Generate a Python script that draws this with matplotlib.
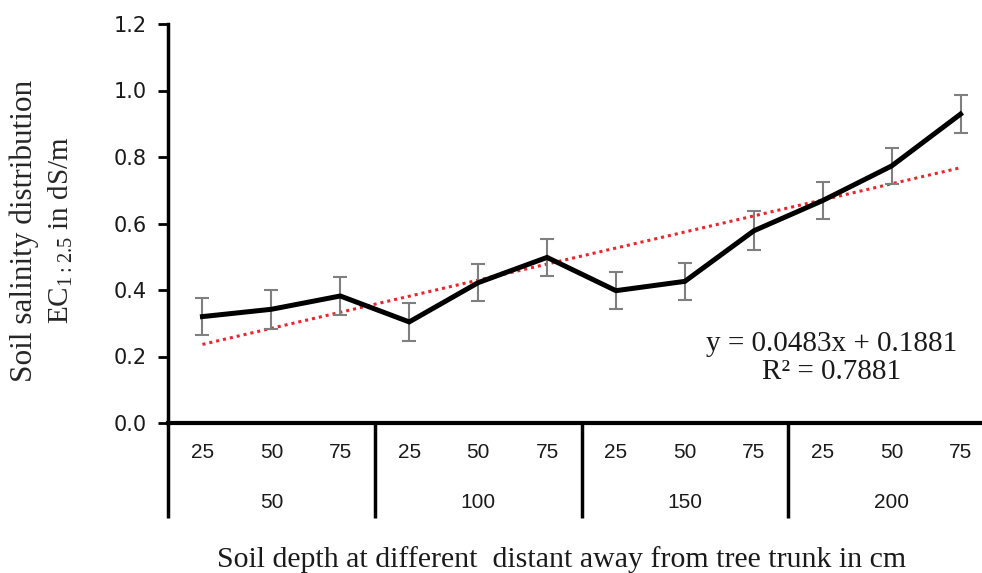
import numpy as np
import matplotlib
matplotlib.use("Agg")
import matplotlib.pyplot as plt
import matplotlib.transforms as mtransforms

# Data
depth_labels = ["25", "50", "75"] * 4
distance_labels = ["50", "100", "150", "200"]
ec_values = [0.320, 0.342, 0.382, 0.304, 0.422, 0.498, 0.398, 0.426, 0.578, 0.669, 0.773, 0.929]
ec_errors = [0.056, 0.059, 0.056, 0.058, 0.056, 0.056, 0.056, 0.056, 0.059, 0.056, 0.055, 0.056]
trend_slope = 0.0483
trend_intercept = 0.1881
trend_r2 = 0.7881

W, H = 982, 573
fig = plt.figure(figsize=(W / 100, H / 100), dpi=100)
left, right, bottom, top = 168, 995, 423, 24
ax = fig.add_axes([left / W, 1 - bottom / H, (right - left) / W, (bottom - top) / H])

x = np.arange(1, len(ec_values) + 1)

# Trendline
xt = np.array([x[0], x[-1]])
ax.plot(xt, trend_slope * xt + trend_intercept, linestyle=(0, (1, 1.3)), color="#e8262b",
        lw=2.2, zorder=2)

# Error bars and main line
ax.errorbar(x, ec_values, yerr=ec_errors, fmt="none", ecolor="#7f7f7f", elinewidth=1.5,
            capsize=5, capthick=1.5, zorder=3)
ax.plot(x, ec_values, color="black", lw=3.6, zorder=4, solid_joinstyle="miter")

ax.set_xlim(0.5, 12.5)
ax.set_ylim(0, 1.2)
ax.set_yticks(np.arange(0, 1.21, 0.2))
ax.set_yticklabels([f"{v:.1f}" for v in np.arange(0, 1.21, 0.2)],
                   fontfamily="DejaVu Sans", fontsize=15, color="#1a1a1a")
ax.tick_params(axis="y", direction="out", length=7, width=2, pad=8.5)
ax.set_xticks([])

for s in ["top", "right"]:
    ax.spines[s].set_visible(False)
ax.spines["left"].set_linewidth(2.5)
ax.spines["bottom"].set_linewidth(3)

trans = mtransforms.blended_transform_factory(ax.transData, ax.transAxes)
sep_bottom = -(518 - 423) / (423 - 24)
for b in [0.5, 3.5, 6.5, 9.5, 12.5]:
    ax.plot([b, b], [0, sep_bottom], color="black", lw=2.5, transform=trans, clip_on=False,
            solid_capstyle="butt")

sub_y = -(452 - 423) / (423 - 24)
grp_y = -(503 - 423) / (423 - 24)
for xi, lab in zip(x, depth_labels):
    ax.text(xi, sub_y, lab, transform=trans, ha="center", va="center",
            fontfamily="Liberation Sans", fontsize=15, color="#1a1a1a")
for gi, lab in enumerate(distance_labels):
    ax.text(3 * gi + 2, grp_y, lab, transform=trans, ha="center", va="center",
            fontfamily="Liberation Sans", fontsize=15, color="#1a1a1a")

# Axis titles
fig.text(562 / W, 1 - 560 / H, "Soil depth at different  distant away from tree trunk in cm",
         ha="center", va="center", fontfamily="Liberation Serif", fontsize=21.5, color="#1a1a1a")
fig.text(24 / W, 1 - 231 / H, "Soil salinity distribution", rotation=90, ha="center",
         va="center", fontfamily="Liberation Serif", fontsize=22.5, color="#262626")
fig.text(61 / W, 1 - 230 / H, r"EC$_{\mathregular{1{:}2.5}}$ in dS/m", rotation=90, ha="center",
         va="center", fontfamily="Liberation Serif", fontsize=21, color="#262626")

# Equation
ax.text(832, H - 358, f"y = {trend_slope}x + {trend_intercept}\nR² = {trend_r2}",
        transform=None, ha="center", va="center", fontfamily="Liberation Serif",
        fontsize=21, color="#1a1a1a", linespacing=1.08)

fig.savefig("out.png", dpi=100)
